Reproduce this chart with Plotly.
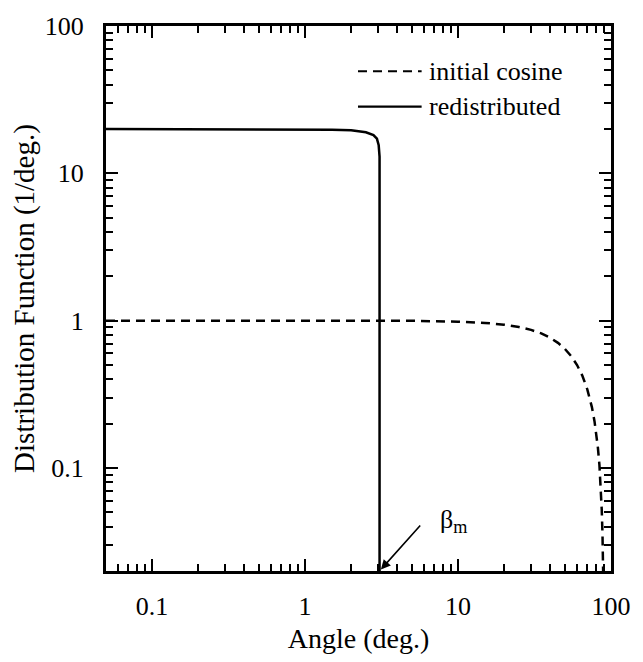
import math
import plotly.graph_objects as go

# ---- data ----
cos_angle = [0.05, 0.1, 0.5, 1, 2, 5, 10, 15, 20, 25, 30, 35, 40, 45, 50, 55, 60,
             65, 70, 75, 78, 80, 82, 84, 85, 86, 87, 88, 89]
cos_value = [1.0, 1.0, 1.0, 1.0, 1.0, 0.998, 0.985, 0.966, 0.94, 0.906, 0.866, 0.82,
             0.766, 0.707, 0.643, 0.574, 0.5, 0.423, 0.342, 0.259, 0.208, 0.174,
             0.139, 0.105, 0.087, 0.07, 0.052, 0.035, 0.0175]

red_angle = [0.05, 0.1, 0.5, 1.0, 1.5, 2.0, 2.5, 2.8, 2.95, 3.03, 3.07, 3.07]
red_value = [20.0, 20.0, 20.0, 19.9, 19.8, 19.6, 19.0, 18.2, 17.2, 15.5, 13.0, 0.01]

beta_m = 3.07
x_range = [0.05, 100]
y_range = [0.02, 100]

major_vals = [0.1, 1, 10, 100]
major_text = ["0.1", "1", "10", "100"]
x_minor = [d * 10 ** e for e in (-2, -1, 0, 1) for d in range(2, 10)]
y_minor = [d * 10 ** e for e in (-2, -1, 0, 1) for d in range(2, 10)]

legend_names = ["initial cosine", "redistributed"]

FONT = "Liberation Serif, Times New Roman, serif"

fig = go.Figure()
fig.add_trace(go.Scatter(x=cos_angle, y=cos_value, mode="lines", name=legend_names[0],
                         line=dict(color="black", width=2.5, dash="9px,6px")))
fig.add_trace(go.Scatter(x=red_angle, y=red_value, mode="lines", name=legend_names[1],
                         line=dict(color="black", width=2.5)))

axis_common = dict(
    type="log", showgrid=False, zeroline=False,
    showline=True, linecolor="black", linewidth=3, mirror="allticks",
    ticks="inside", ticklen=12, tickwidth=2, tickcolor="black",
    tickmode="array", tickvals=major_vals, ticktext=major_text,
    tickfont=dict(family=FONT, size=26, color="black"),
)

fig.update_xaxes(
    **axis_common,
    range=[math.log10(x_range[0]), math.log10(x_range[1])],
    minor=dict(tickmode="array", tickvals=x_minor, ticks="inside", ticklen=7,
               tickwidth=1.5, tickcolor="black", showgrid=False),
    ticklabelstandoff=10,
    title=dict(text="Angle (deg.)", font=dict(family=FONT, size=28, color="black"),
               standoff=9),
)
fig.update_yaxes(
    **axis_common,
    range=[math.log10(y_range[0]), math.log10(y_range[1])],
    minor=dict(tickmode="array", tickvals=y_minor, ticks="inside", ticklen=7,
               tickwidth=1.5, tickcolor="black", showgrid=False),
    ticklabelstandoff=14,
    title=dict(text="Distribution Function (1/deg.)",
               font=dict(family=FONT, size=29, color="black"), standoff=2),
)

# legend drawn manually to match the reference layout
leg_y = [0.917, 0.852]
fig.add_shape(type="line", xref="paper", yref="paper", x0=0.499, x1=0.625,
              y0=leg_y[0], y1=leg_y[0], line=dict(color="black", width=2.2, dash="9px,6px"))
fig.add_shape(type="line", xref="paper", yref="paper", x0=0.499, x1=0.625,
              y0=leg_y[1], y1=leg_y[1], line=dict(color="black", width=2.2))
for name, yy in zip(legend_names, leg_y):
    fig.add_annotation(xref="paper", yref="paper", x=0.636, y=yy, text=name,
                       showarrow=False, xanchor="left", yanchor="middle",
                       font=dict(family=FONT, size=26, color="black"))

# beta_m arrow and label
fig.add_annotation(x=math.log10(beta_m), y=math.log10(y_range[0]), xref="x", yref="y",
                   text="", showarrow=True, arrowhead=2, arrowsize=1.2, arrowwidth=1.6,
                   arrowcolor="black", ax=42, ay=-47, standoff=2)
fig.add_annotation(x=math.log10(beta_m), y=math.log10(y_range[0]), xref="x", yref="y",
                   text="β<sub>m</sub>", showarrow=False, xanchor="left", yanchor="middle",
                   xshift=58, yshift=50,
                   font=dict(family=FONT, size=26, color="black"))

fig.update_layout(
    width=643, height=662,
    margin=dict(l=106, r=21, t=21, b=77),
    plot_bgcolor="white", paper_bgcolor="white",
    showlegend=False,
    font=dict(family=FONT, color="black"),
)

fig.write_html("out.html", config={"displayModeBar": False},
               post_script="document.body.style.margin='0';")
